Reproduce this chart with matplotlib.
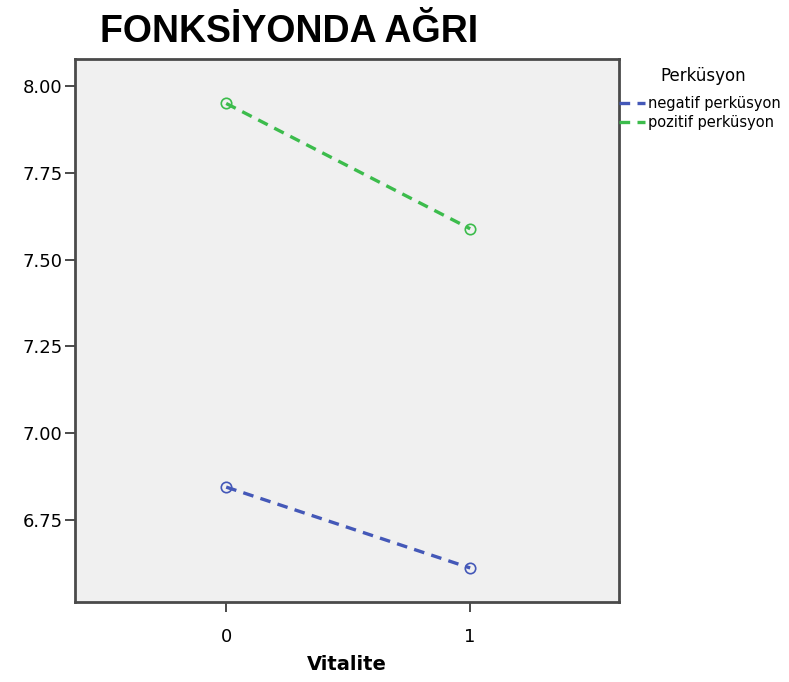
import matplotlib

matplotlib.use("Agg")
import matplotlib.pyplot as plt
from matplotlib.lines import Line2D

# data
vitalite = [0, 1]
negatif = [6.845, 6.612]
pozitif = [7.950, 7.589]
series_labels = ["negatif perküsyon", "pozitif perküsyon"]
y_ticks = [6.75, 7.00, 7.25, 7.50, 7.75, 8.00]

BLUE = "#4458b8"
GREEN = "#3cbc4c"
SPINE = "#4a4a4a"
DASH = (0, (3.2, 2.2))

fig = plt.figure(figsize=(7.89, 6.82), dpi=100)
ax = fig.add_axes([0.095, 0.1173, 0.6895, 0.7962])
ax.set_facecolor("#f0f0f0")

for vals, color in ((negatif, BLUE), (pozitif, GREEN)):
    ax.plot(vitalite, vals, linestyle=DASH, color=color, linewidth=2.4,
            marker="o", markersize=7.5, markerfacecolor="none", markeredgewidth=1.2)

ax.set_xlim(-0.62, 1.61)
ax.set_ylim(6.514, 8.078)
ax.set_xticks(vitalite)
ax.set_yticks(y_ticks)
ax.set_yticklabels([f"{v:.2f}" for v in y_ticks])
ax.tick_params(direction="out", length=7, width=1.4, color=SPINE, labelsize=13, pad=2)
ax.tick_params(axis="x", pad=12)
for s in ax.spines.values():
    s.set_color(SPINE)
    s.set_linewidth(2)

ax.set_xlabel("Vitalite", fontsize=14, fontweight="bold", labelpad=6)

fig.text(100 / 789, 1 - 32 / 682, "FONKSİYONDA AĞRI", fontsize=27, fontweight="bold",
         family="Liberation Sans", va="center", ha="left")

# legend title drawn separately so its spacing can match the reference
fig.text(703 / 789, 1 - 76 / 682, "Perküsyon", fontsize=12, ha="center", va="center")
handles = [Line2D([0], [0], color=c, linestyle=DASH, linewidth=2.4) for c in (BLUE, GREEN)]
fig.legend(handles, series_labels, loc="upper left",
           bbox_to_anchor=(619 / 789, 1 - 96 / 682), frameon=False, fontsize=10.5,
           handlelength=1.8, handletextpad=0.2, labelspacing=0.25, borderaxespad=0,
           borderpad=0)

fig.savefig("out.png", dpi=100)
